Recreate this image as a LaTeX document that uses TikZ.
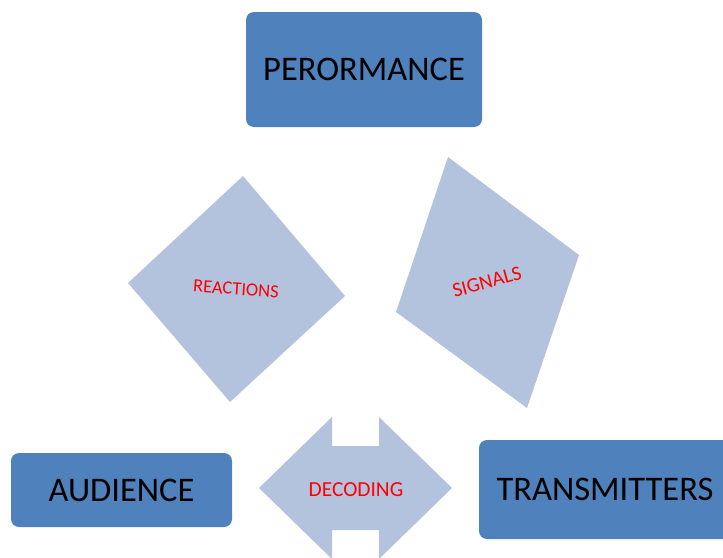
\documentclass[tikz,border=0pt]{standalone}
\usepackage{fontspec}
\setmainfont{Carlito}
\definecolor{boxblue}{HTML}{4F81BD}
\definecolor{paleblue}{HTML}{B3C3DE}
\begin{document}
\begin{tikzpicture}[x=1pt, y=-1pt,
    bigbox/.style={fill=boxblue, rounded corners=8pt, inner sep=0pt,
      text=black, font=\fontsize{34.5}{40}\selectfont},
    redlabel/.style={text=red, inner sep=0pt}]
    \useasboundingbox (0,0) rectangle (723,557);
    \clip (0,0) rectangle (723,557);

    % Top box
    \node[bigbox, minimum width=236, minimum height=115] (perf) at (364,69.5) {PERORMANCE};

    % Left diamond
    \fill[paleblue] (128,283) -- (243,176) -- (345,296) -- (230,402) -- cycle;
    \node[redlabel, rotate=-4, font=\fontsize{18.5}{22}\selectfont] (react) at (236,289) {REACTIONS};

    % Right tilted square
    \fill[paleblue] (448,157) -- (579,255) -- (527,408) -- (396,312) -- cycle;
    \node[redlabel, rotate=15, font=\fontsize{20.5}{24}\selectfont] (sig) at (487,282) {SIGNALS};

    % Double arrow
    \fill[paleblue] (259,488) -- (332,417) -- (332,446) -- (379,446) -- (379,417)
        -- (452,488) -- (379,559) -- (379,530) -- (332,530) -- (332,559) -- cycle;
    \node[redlabel, font=\fontsize{21.4}{25}\selectfont] (dec) at (356,490) {DECODING};

    % Bottom boxes
    \node[bigbox, minimum width=221, minimum height=74] (aud) at (121.5,490) {AUDIENCE};
    \node[bigbox, minimum width=252, minimum height=99] (trans) at (605,489.5) {TRANSMITTERS};
\end{tikzpicture}
\end{document}
